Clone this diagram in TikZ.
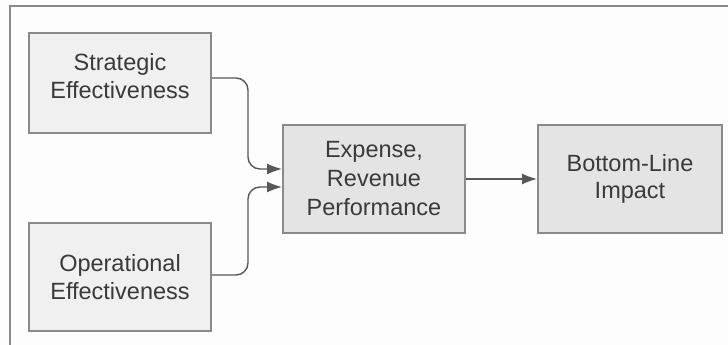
\documentclass[tikz,border=0pt]{standalone}
\usepackage{fontspec}
\setmainfont{Liberation Sans}
\usetikzlibrary{arrows.meta}
\definecolor{pagebg}{HTML}{FDFDFD}
\definecolor{edge}{HTML}{8A8A8A}
\definecolor{fillA}{HTML}{F0F0F0}
\definecolor{fillB}{HTML}{E4E4E4}
\definecolor{ink}{HTML}{3A3A3A}
\tikzset{
  box/.style={draw=edge, line width=2pt, minimum width=182pt, minimum height=100pt,
    align=center, text=ink, inner sep=0pt,
    font=\fontsize{23.5}{27.5}\selectfont},
  link/.style={draw=ink!85, line width=1.4pt, rounded corners=12pt,
    -{Latex[length=15pt,width=11pt]}},
}
\begin{document}
\begin{tikzpicture}[x=1pt,y=-1pt]
  \fill[pagebg] (0,0) rectangle (728,345);
  \useasboundingbox (0,0) rectangle (728,345);
  % open frame: top and left rules only
  \draw[edge, line width=2pt] (10,345) -- (10,6) -- (728,6);

  \node[box, fill=fillA, minimum height=100pt, text depth=14pt] (strat) at (120,83) {Strategic\\Effectiveness};
  \node[box, fill=fillA, minimum height=108pt] (oper) at (120,277) {Operational\\Effectiveness};
  \node[box, fill=fillB, minimum height=108pt, font=\fontsize{23.5}{29}\selectfont] (exp) at (374,179) {Expense,\\Revenue\\Performance};
  \node[box, fill=fillB, minimum height=108pt, minimum width=184pt] (bot) at (630,179) {Bottom-Line\\Impact};

  \coordinate (sA) at (strat.east |- 0,78);
  \coordinate (oA) at (oper.east |- 0,275);
  \coordinate (eS) at (exp.west |- 0,169);
  \coordinate (eO) at (exp.west |- 0,187);

  \draw[link] (sA) -- (248,78) -- (248,169) -- (eS);
  \draw[link] (oA) -- (248,275) -- (248,187) -- (eO);
  \draw[link, rounded corners=0pt] (exp.east) -- (bot.west);
\end{tikzpicture}
\end{document}
